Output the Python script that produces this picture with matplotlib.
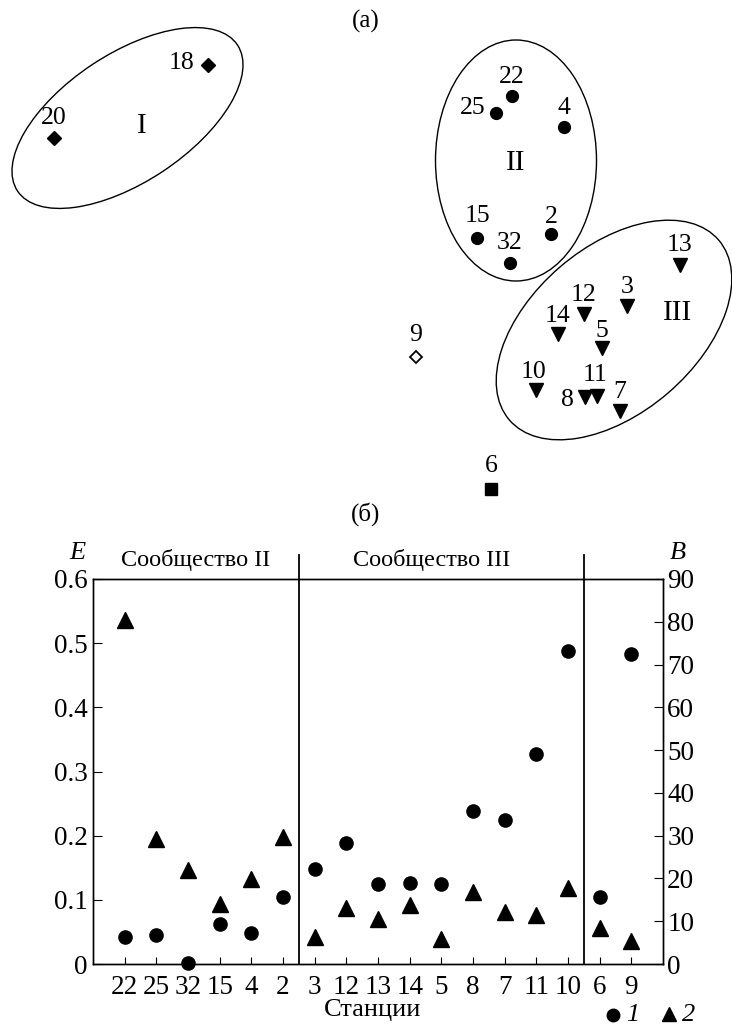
import numpy as np
import matplotlib
matplotlib.use("Agg")
import matplotlib.pyplot as plt
from matplotlib.patches import Ellipse
from matplotlib.lines import Line2D
import matplotlib.transforms as mtransforms

plt.rcParams['font.family'] = ['Liberation Serif', 'DejaVu Serif']

# ---- (a) ordination of stations (arbitrary ordination units) ----
st_names = ['20', '18', '22', '25', '4', '15', '2', '32',
            '13', '3', '12', '14', '5', '10', '8', '11', '7', '9', '6']
st_x = [-3.12, -1.58, 1.46, 1.30, 1.98, 1.11, 1.85, 1.44,
        3.14, 2.61, 2.18, 1.92, 2.36, 1.70, 2.19, 2.31, 2.54, 0.50, 1.25]
st_y = [1.12, 1.85, 1.54, 1.37, 1.23, 0.12, 0.16, -0.13,
        -0.15, -0.56, -0.64, -0.84, -0.98, -1.40, -1.47, -1.46, -1.61, -1.07, -2.39]
st_group = ['I', 'I', 'II', 'II', 'II', 'II', 'II', 'II',
            'III', 'III', 'III', 'III', 'III', 'III', 'III', 'III', 'III', '9', '6']

# label offsets (pixels) for station numbers
lab_off = {'20': (0, 20), '18': (-26, 2), '22': (0, 19), '25': (-23, 5), '4': (0, 19),
           '15': (0, 22), '2': (0, 17), '32': (0, 20), '13': (0, 20), '3': (0, 19),
           '12': (0, 19), '14': (0, 18), '5': (0, 17), '10': (-2, 18), '8': (-18, -3),
           '11': (-2, 21), '7': (0, 19), '9': (0, 22), '6': (0, 23)}

# ---- (б) E and B by station ----
stations = ['22', '25', '32', '15', '4', '2', '3', '12', '13', '14', '5',
            '8', '7', '11', '10', '6', '9']
E_vals = [0.042, 0.045, 0.001, 0.062, 0.049, 0.105, 0.148, 0.188, 0.125, 0.127,
          0.124, 0.239, 0.224, 0.328, 0.488, 0.104, 0.483]
B_vals = [80.3, 29.2, 22.0, 14.0, 19.9, 29.8, 6.2, 13.0, 10.6, 13.7,
          5.8, 16.8, 12.1, 11.4, 17.7, 8.3, 5.4]

W, H = 732, 1025
fig = plt.figure(figsize=(W / 100, H / 100), dpi=100)

# top panel
ax1 = fig.add_axes([0, 1 - 500 / H, 1, 500 / H])
ax1.set_xlim(-3.66, 3.66)
ax1.set_ylim(-2.5, 2.5)
ax1.axis('off')

styles = {'I': dict(marker='D', ms=7.5, mfc='black', mec='black'),
          'II': dict(marker='o', ms=8.5, mfc='black', mec='black'),
          'III': dict(marker='v', ms=9.5, mfc='black', mec='black'),
          '9': dict(marker='D', ms=6, mfc='white', mec='black', mew=1.3),
          '6': dict(marker='s', ms=8, mfc='black', mec='black')}

for g in styles:
    xs = [x for x, gg in zip(st_x, st_group) if gg == g]
    ys = [y for y, gg in zip(st_y, st_group) if gg == g]
    ax1.plot(xs, ys, ls='none', clip_on=False, **styles[g])

for name, x, y in zip(st_names, st_x, st_y):
    ax1.annotate(name, (x, y), xytext=lab_off[name], textcoords='offset pixels',
                 ha='center', va='center', fontsize=18.5)

# cluster ellipses
ax1.add_patch(Ellipse((-2.385, 1.32), 2.64, 1.28, angle=33.6, fill=False, lw=1.0))
ax1.add_patch(Ellipse((1.50, 0.895), 1.61, 2.41, angle=0, fill=False, lw=1.0))
ax1.add_patch(Ellipse((2.48, -0.80), 2.76, 1.66, angle=40.7, fill=False, lw=1.0))
ax1.text(-2.24, 1.24, 'I', fontsize=21, ha='center', va='center')
ax1.text(1.50, 0.87, 'II', fontsize=21, ha='center', va='center')
ax1.text(3.12, -0.63, 'III', fontsize=21, ha='center', va='center')

fig.text(366 / W, 1 - 21 / H, '(a)', fontsize=18, ha='center', va='center')
fig.text(366 / W, 1 - 514 / H, '(б)', fontsize=18, ha='center', va='center')

# bottom panel
ax = fig.add_axes([93 / W, 1 - 964 / H, 570 / W, 385 / H])
ax2 = ax.twinx()
xpos = np.arange(len(stations))

ax.plot(xpos, E_vals, ls='none', marker='o', ms=9.5, color='black', clip_on=False, zorder=5)
ax2.plot(xpos, B_vals, ls='none', marker='^', ms=11, color='black', clip_on=False, zorder=5)

ax.set_xlim(-1, len(stations))
ax.set_ylim(0, 0.6)
ax2.set_ylim(0, 90)
ax.set_xticks(xpos)
ax.set_xticklabels(stations)
ax.set_yticks(np.arange(0, 0.61, 0.1))
ax.set_yticklabels(['0'] + ['%.1f' % v for v in np.arange(0.1, 0.61, 0.1)])
ax2.set_yticks(np.arange(0, 91, 10))

ax.tick_params(axis='x', direction='in', length=5, labelsize=19.5, pad=8, top=False)
ax.tick_params(axis='y', direction='in', length=6.5, labelsize=19.5, pad=4)
ax2.tick_params(axis='y', direction='in', length=6.5, labelsize=19.5, pad=3)
for a in (ax, ax2):
    for s in a.spines.values():
        s.set_linewidth(1.0)

trans = mtransforms.blended_transform_factory(ax.transData, ax.transAxes)
for xv in (5.5, 14.5):
    ax.plot([xv, xv], [0, 1.062], color='black', lw=1.3, transform=trans, clip_on=False)

fig.text(196 / W, 1 - 560 / H, 'Сообщество II', fontsize=17.5, ha='center', va='center')
fig.text(432 / W, 1 - 560 / H, 'Сообщество III', fontsize=17.5, ha='center', va='center')
fig.text(77 / W, 1 - 553 / H, 'E', fontsize=19, style='italic', ha='center', va='center')
fig.text(678 / W, 1 - 553 / H, 'B', fontsize=19, style='italic', ha='center', va='center')
fig.text(373 / W, 1 - 1010 / H, 'Станции', fontsize=19, ha='center', va='center')

# legend
fig.add_artist(Line2D([613 / W], [1 - 1015 / H], transform=fig.transFigure,
                      marker='o', ms=9, color='black', ls='none'))
fig.text(633 / W, 1 - 1015 / H, '1', fontsize=19, style='italic', ha='center', va='center')
fig.add_artist(Line2D([669 / W], [1 - 1014 / H], transform=fig.transFigure,
                      marker='^', ms=9.5, color='black', ls='none'))
fig.text(689 / W, 1 - 1015 / H, '2', fontsize=19, style='italic', ha='center', va='center')

fig.savefig('out.png', dpi=100)
